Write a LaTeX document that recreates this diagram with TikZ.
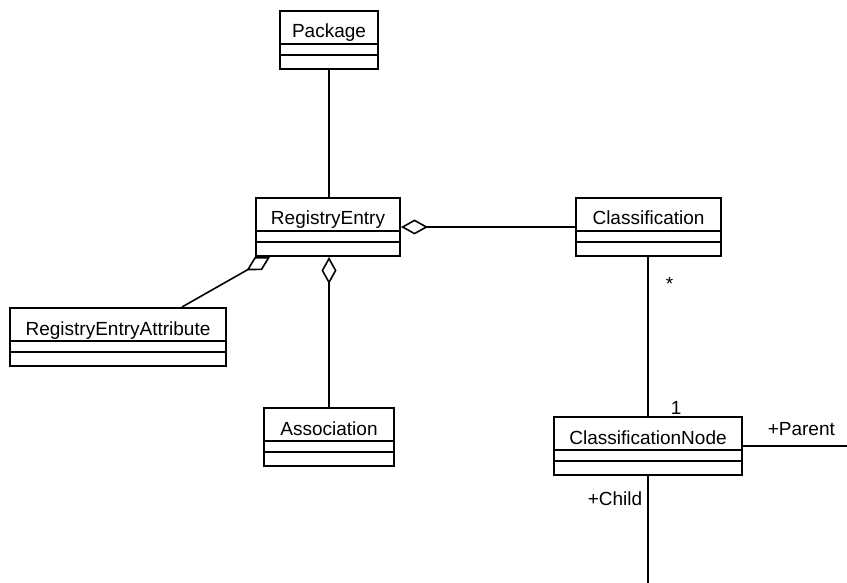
\documentclass[tikz,border=0pt]{standalone}
\usepackage{fontspec}
\setmainfont{Liberation Sans}
\usetikzlibrary{arrows.meta}

\tikzset{
  umlclass/.style={draw, line width=2pt, minimum width=#1,
    text height=27pt, text depth=31pt, inner ysep=0pt,
    font=\fontsize{19}{22}\selectfont,
    path picture={
      \draw[line width=1.6pt]
      ([yshift=25pt]path picture bounding box.south west) --
      ([yshift=25pt]path picture bounding box.south east)
      ([yshift=14pt]path picture bounding box.south west) --
      ([yshift=14pt]path picture bounding box.south east);
    }},
  aggr/.style={-{Diamond[open,length=27pt,width=15pt]}},
  role/.style={inner sep=0pt, font=\fontsize{19}{22}\selectfont}
}

\begin{document}
\begin{tikzpicture}[x=1pt, y=-1pt, line width=1.6pt]

\useasboundingbox (0,0) rectangle (847,583);

% Classes
\node[umlclass=98pt] (pkg) at (329,40)
{Package};

\node[umlclass=144pt] (re) at (328,227)
{RegistryEntry};

\node[umlclass=145pt] (cls) at (648.5,227)
{Classification};

\node[umlclass=216pt] (rea) at (118,337)
{RegistryEntryAttribute};

\node[umlclass=130pt] (assoc) at (329,437)
{Association};

\node[umlclass=188pt] (cnode) at (648,446)
{ClassificationNode};

% Associations
\draw (pkg.south) -- (pkg.south |- re.north);

\draw[aggr] (cls.west) -- (re.east);

\draw[aggr] (assoc.north) -- (assoc.north |- re.south);

\draw[aggr]
([xshift=64pt]rea.north) -- ([xshift=-58pt]re.south);

\draw (cnode.north |- cls.south) -- (cnode.north)
node[role, at start, anchor=north west, xshift=17pt, yshift=-20pt] {*}
node[role, at end, anchor=base west, xshift=22pt, yshift=2pt] {1};

% Self association of ClassificationNode
\coordinate (parentend) at ([xshift=105pt]cnode.east);
\coordinate (childend) at ([yshift=-108pt]cnode.south);

\draw (cnode.east) -- (parentend)
node[role, at start, anchor=base west, xshift=24pt, yshift=11pt] {+Parent};

\draw (cnode.south) -- (childend)
node[role, at start, anchor=base east, xshift=-5pt, yshift=-29pt] {+Child};

\end{tikzpicture}
\end{document}
